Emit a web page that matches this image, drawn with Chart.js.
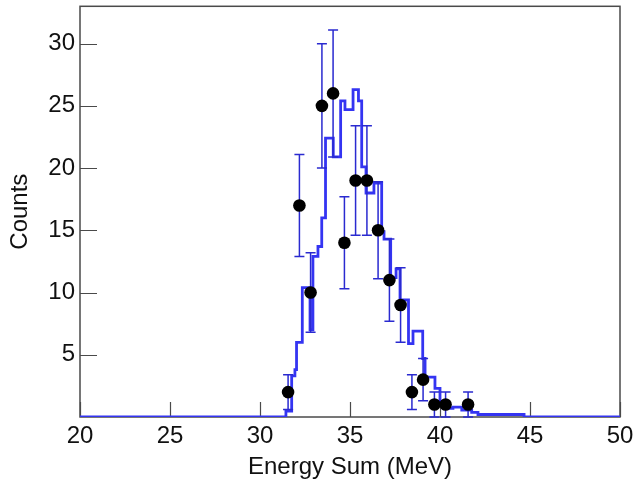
<!DOCTYPE html>
<html>
<head>
<meta charset="utf-8">
<script src="https://cdn.jsdelivr.net/npm/chart.js@4.4.1/dist/chart.umd.min.js"></script>
<style>
  html, body { margin: 0; padding: 0; background: #fff; }
  #wrap { width: 636px; height: 487px; }
</style>
</head>
<body>
<div id="wrap"><canvas id="energyChart" width="636" height="487"></canvas></div>
<script>
// simulated spectrum (step histogram): left bin edge -> counts
const binEdges  = [20, 31.44, 31.76, 31.94, 32.03, 32.35, 32.78, 32.94, 33.22, 33.43, 33.64,
                   34.07, 34.48, 34.72, 35.17, 35.47, 35.65, 35.89, 36.33, 36.76, 36.89,
                   37.26, 37.56, 37.78, 38.25, 38.50, 39.04, 39.17, 39.72, 40.00, 40.18,
                   40.72, 41.21, 41.76, 42.11, 44.67, 50];
const binCounts = [0, 0.47, 3.3, 3.8, 6.0, 10.4, 7.0, 12.9, 13.7, 16.0, 22.4,
                   20.9, 25.4, 24.7, 26.3, 25.4, 20.1, 18.0, 18.8, 14.9, 14.3,
                   11.2, 11.9, 9.4, 5.9, 6.9, 4.7, 3.2, 2.3, 1.1, 0.7,
                   0.8, 0.55, 0.37, 0.2, 0, 0];

// measured data points
const pointEnergy = [31.56, 32.19, 32.81, 33.44, 34.06, 34.69, 35.31, 35.94, 36.56, 37.19,
                     37.81, 38.44, 39.06, 39.69, 40.31, 41.56];
const pointCounts = [2, 17, 10, 25, 26, 14, 19, 19, 15, 11, 9, 2, 3, 1, 1, 1];
const pointErrors = [1.4, 4.1, 3.2, 5.0, 5.1, 3.7, 4.4, 4.4, 3.9, 3.3, 3.0, 1.4, 1.7, 1.0, 1.0, 1.0];

const xTicks = [20, 25, 30, 35, 40, 45, 50];
const yTicks = [5, 10, 15, 20, 25, 30];

const fontFamily = "'Liberation Sans', Arial, Helvetica, sans-serif";
const histColor = "#3434f2";
const errColor = "#2a2ad0";

// frame + inward tick marks
const framePlugin = {
    id: "frame",
    beforeDatasetsDraw(chart) {
        const { ctx, chartArea: a, scales } = chart;
        ctx.save();
        ctx.strokeStyle = "#4a4a4a";
        ctx.lineWidth = 1.5;
        ctx.strokeRect(a.left, a.top, a.right - a.left, a.bottom - a.top);
        ctx.lineWidth = 1.2;
        ctx.beginPath();
        yTicks.forEach(v => {
            const y = Math.round(scales.y.getPixelForValue(v)) + 0.5;
            ctx.moveTo(a.left, y);
            ctx.lineTo(a.left + 17, y);
        });
        xTicks.forEach(v => {
            const x = Math.round(scales.x.getPixelForValue(v)) + 0.5;
            ctx.moveTo(x, a.bottom);
            ctx.lineTo(x, a.bottom - 15);
        });
        ctx.stroke();
        ctx.restore();
    }
};

// vertical error bars under the data markers
const errorBarPlugin = {
    id: "errorBars",
    beforeDatasetDraw(chart, args) {
        if (args.index !== 0) return;
        const { ctx, scales } = chart;
        ctx.save();
        ctx.strokeStyle = errColor;
        ctx.lineWidth = 1.5;
        ctx.beginPath();
        pointEnergy.forEach((e, i) => {
            const x = scales.x.getPixelForValue(e);
            const yHi = scales.y.getPixelForValue(pointCounts[i] + pointErrors[i]);
            const yLo = scales.y.getPixelForValue(Math.max(0, pointCounts[i] - pointErrors[i]));
            ctx.moveTo(x, yHi);
            ctx.lineTo(x, yLo);
            ctx.moveTo(x - 5, yHi);
            ctx.lineTo(x + 5, yHi);
            ctx.moveTo(x - 5, yLo);
            ctx.lineTo(x + 5, yLo);
        });
        ctx.stroke();
        ctx.restore();
    }
};

const ctx = document.getElementById("energyChart").getContext("2d");

new Chart(ctx, {
    type: "line",
    data: {
        datasets: [
            {
                label: "Data",
                type: "scatter",
                data: pointEnergy.map((e, i) => ({ x: e, y: pointCounts[i] })),
                pointRadius: 6.3,
                pointBackgroundColor: "#000",
                pointBorderColor: "#000",
                pointBorderWidth: 0,
                showLine: false
            },
            {
                label: "Simulation",
                data: binEdges.map((e, i) => ({ x: e, y: binCounts[i] })),
                stepped: "before",
                borderColor: histColor,
                borderWidth: 2.8,
                pointRadius: 0,
                fill: false
            }
        ]
    },
    options: {
        responsive: false,
        animation: false,
        devicePixelRatio: 1,
        layout: { padding: { top: 5, right: 16, left: 0, bottom: 0 } },
        plugins: {
            legend: { display: false },
            tooltip: { enabled: false }
        },
        scales: {
            x: {
                type: "linear",
                min: 20,
                max: 50,
                afterBuildTicks: scale => { scale.ticks = xTicks.map(v => ({ value: v })); },
                afterFit: scale => {
                    scale.height = 70;
                    scale.paddingLeft = 0;
                    scale.paddingRight = 0;
                },
                grid: { display: false, drawTicks: false },
                border: { display: false },
                ticks: {
                    padding: 5,
                    maxRotation: 0,
                    color: "#111",
                    font: { family: fontFamily, size: 24 }
                },
                title: {
                    display: true,
                    text: "Energy Sum (MeV)",
                    color: "#111",
                    padding: { top: 0, bottom: 5 },
                    font: { family: fontFamily, size: 24 }
                }
            },
            y: {
                min: 0,
                max: 33,
                afterBuildTicks: scale => { scale.ticks = yTicks.map(v => ({ value: v })); },
                afterFit: scale => {
                    scale.width = 80;
                    scale.paddingTop = 0;
                    scale.paddingBottom = 0;
                },
                grid: { display: false, drawTicks: false },
                border: { display: false },
                ticks: {
                    padding: 5,
                    color: "#111",
                    font: { family: fontFamily, size: 24 }
                },
                title: {
                    display: true,
                    text: "Counts",
                    color: "#111",
                    padding: { top: 6, bottom: 0 },
                    font: { family: fontFamily, size: 24 }
                }
            }
        }
    },
    plugins: [framePlugin, errorBarPlugin]
});
</script>
</body>
</html>
